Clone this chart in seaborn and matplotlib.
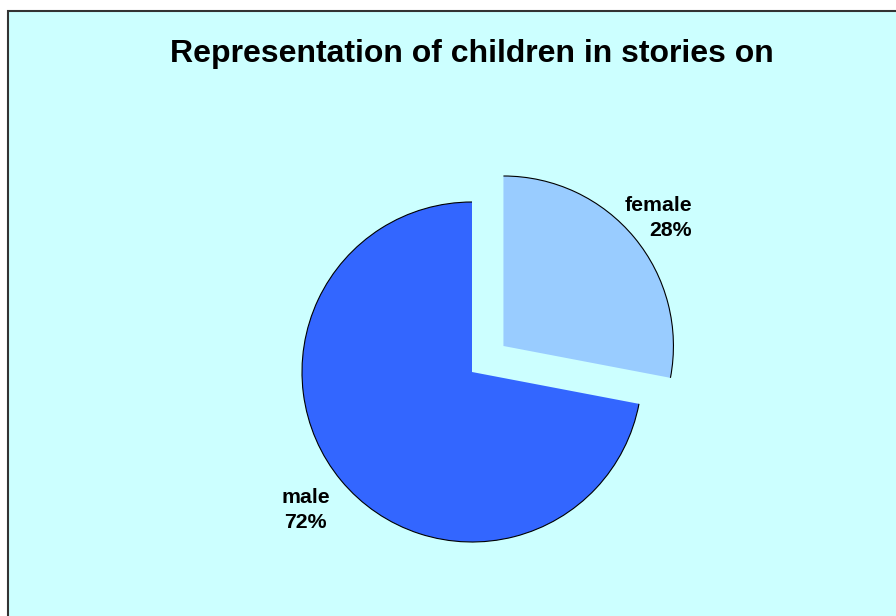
import matplotlib
matplotlib.use("Agg")
import matplotlib.pyplot as plt
from matplotlib.patches import Arc, Rectangle
import numpy as np
import seaborn as sns

categories = ["female", "male"]
values = [28, 72]
colors = ["#99CCFF", "#3366FF"]
title = "Representation of children in stories on"

sns.set_style("white")
plt.rcParams["font.family"] = ["Liberation Sans", "DejaVu Sans"]

W, H = 896, 616
fig = plt.figure(figsize=(W / 100, H / 100), dpi=100)
fig.patch.set_facecolor("white")

bg = Rectangle((7.7 / W, -0.05), 1.2, (H - 11) / H + 0.05, transform=fig.transFigure,
               facecolor="#CCFFFF", edgecolor="#333333", linewidth=1.5, zorder=-5)
fig.patches.append(bg)

fig.text(472 / W, 1 - 54 / H, title, ha="center", va="center",
         fontsize=23, fontweight="bold", color="black")

ax = fig.add_axes([0, 0, 1, 1])
ax.patch.set_alpha(0)

labels = [f"{c}\n{v}%" for c, v in zip(categories, values)]
R = 170
explode = [0.24 * R, 0]
label_dist = [1.18, 1.27]
wedges, texts = ax.pie(values, labels=labels, colors=colors, startangle=90,
                       counterclock=False, explode=explode,
                       center=(472, H - 372), radius=R, labeldistance=1.2,
                       wedgeprops=dict(edgecolor="none", linewidth=0),
                       textprops=dict(fontsize=15.3, fontweight="bold", color="black",
                                      linespacing=1.4))
for w, t, d in zip(wedges, texts, label_dist):
    arc = Arc(w.center, 2 * w.r, 2 * w.r, theta1=w.theta1, theta2=w.theta2,
              color="black", linewidth=0.8)
    ax.add_patch(arc)
    tm = np.deg2rad(0.5 * (w.theta1 + w.theta2))
    t.set_position((w.center[0] + d * w.r * np.cos(tm), w.center[1] + d * w.r * np.sin(tm)))
    t.set_ha("center")
    t.set_va("center")

texts[0].set_multialignment("right")
texts[1].set_multialignment("center")

ax.set_xlim(0, W)
ax.set_ylim(0, H)
ax.set_aspect("equal")
ax.axis("off")

fig.savefig("out.png", dpi=100)
